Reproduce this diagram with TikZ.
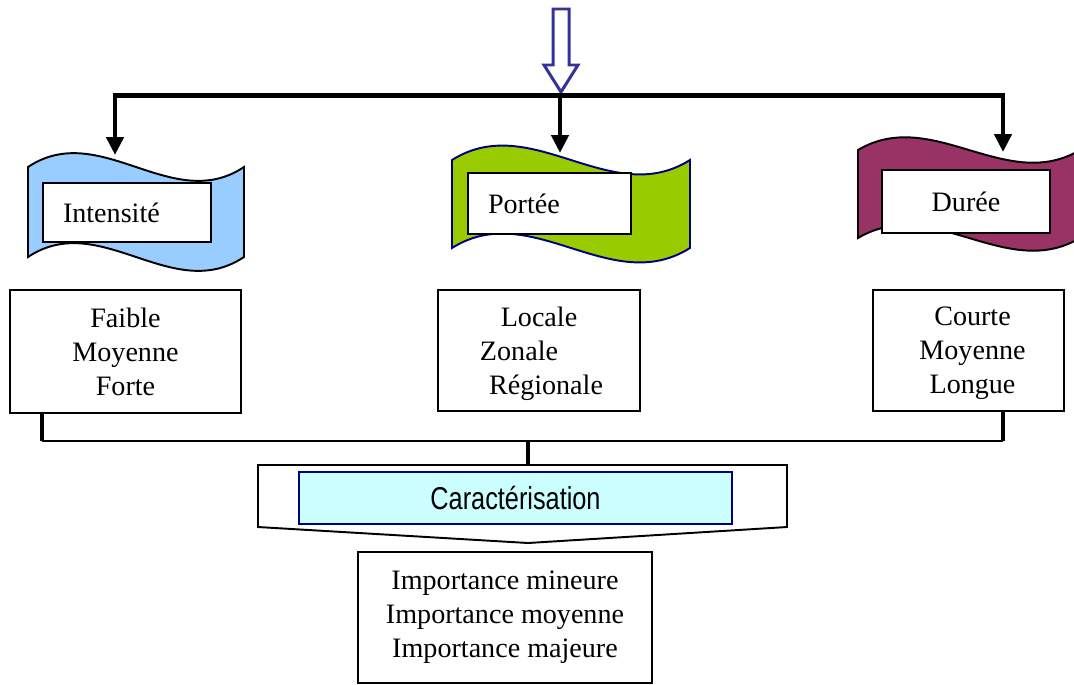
\documentclass[tikz,border=0pt]{standalone}
\usepackage{fontspec}
\usepackage{graphicx}
\setmainfont{Liberation Serif}
\newfontfamily\arialfont{Liberation Sans}
\usetikzlibrary{arrows.meta,calc}

\definecolor{flagBlue}{HTML}{99CCFF}
\definecolor{flagGreen}{HTML}{99CC00}
\definecolor{flagPlum}{HTML}{993366}
\definecolor{navyEdge}{HTML}{000080}
\definecolor{arrowBlue}{HTML}{333399}
\definecolor{caracFill}{HTML}{CCFFFF}

\begin{document}
\begin{tikzpicture}[x=0.02cm, y=-0.02cm,
		txt/.style={font=\fontsize{16pt}{19.3pt}\selectfont},
		listbox/.style={txt, draw, line width=0.85pt, align=center, inner sep=0pt},
		tagbox/.style={txt, draw, fill=white, line width=0.85pt, inner xsep=0.4cm, inner ysep=0pt, align=left},
		bar/.style={line width=2.8pt, line join=miter},
		tip/.style={-{Triangle[width=0.34cm,length=0.36cm]}},
		post/.style={line width=2.3pt}]
		
		\useasboundingbox (0,0) rectangle (1074,684);
		\clip (0,0) rectangle (1074,684);
		
		% Hollow arrow on top
		\coordinate (hub) at (560,95.5);
		\draw[arrowBlue, line width=1.7pt, fill=white] (553,9) -- (569,9) -- (569,65) -- (578,65) -- (561,92) -- (544,65) -- (553,65) -- cycle;
		
		% Wavy banners
		\foreach \L/\R/\T/\H/\c/\col/\edge in {28/244/167/90/48/flagBlue/black, 452/690/160/88/50/flagGreen/navyEdge, 858/1080/150/88/44/flagPlum/black} {
			\pgfmathsetmacro{\W}{\R-\L}
			\draw[fill=\col, draw=\edge, line width=1.1pt]
			(\L,\T) .. controls ({\L+\W/3},{\T-\c}) and ({\L+2*\W/3},{\T+\c}) .. (\R,\T)
			-- (\R,{\T+\H})
			.. controls ({\L+2*\W/3},{\T+\H+\c}) and ({\L+\W/3},{\T+\H-\c}) .. (\L,{\T+\H}) -- cycle;
		}
		
		% Labels on the banners
		\node[tagbox, minimum width=3.36cm, minimum height=1.18cm, text width=2.56cm] (intTag) at (127,212.5) {Intensité};
		\node[tagbox, minimum width=3.26cm, minimum height=1.22cm, text width=2.46cm] (porTag) at (549.5,203.5) {Portée};
		\node[tagbox, minimum width=3.36cm, minimum height=1.26cm, text width=2.56cm, align=center] (durTag) at (966,201.5) {Durée};
		
		% Distribution bar with arrows
		\coordinate (intIn) at (115,155);
		\coordinate (porIn) at (560,153);
		\coordinate (durIn) at (1003,152);
		\draw[bar, tip] (hub) -| (intIn);
		\draw[bar, tip] (hub) -| (durIn);
		\draw[bar, tip] (hub) -- (porIn);
		
		% Value lists
		\node[listbox, minimum width=4.62cm, minimum height=2.46cm] (intList) at (125.5,351.5) {Faible\\Moyenne\\Forte};
		\node[listbox, minimum width=4.04cm, minimum height=2.42cm] (porList) at (539,350.5) {Locale\\Zonale\hspace*{0.8cm}\null\\\hspace*{0.28cm}\smash{Régionale}};
		\node[listbox, minimum width=3.82cm, minimum height=2.42cm] (durList) at (968.5,350.5) {\hspace*{0.16cm}Courte\\\hspace*{0.16cm}Moyenne\\\hspace*{0.16cm}\smash{Longue}};
		
		% Collecting line
		\coordinate (intFoot) at (42,441);
		\coordinate (durFoot) at (1003,441);
		\coordinate (caracTop) at (528,465);
		\draw[line width=1.1pt] (intFoot) -- (durFoot);
		\draw[post] (intList.south -| intFoot) -- (intFoot);
		\draw[post] (durList.south -| durFoot) -- (durFoot);
		\draw[post] (caracTop |- intFoot) -- (caracTop);
		
		% Pointed frame and title
		\draw[line width=1.1pt, fill=white] (258,465) -- (787,465) -- (787,527) -- (528,543) -- (258,527) -- cycle;
		\node[draw=navyEdge, fill=caracFill, line width=1pt, minimum width=8.66cm, minimum height=1.04cm, inner sep=0pt, font=\arialfont\fontsize{18pt}{21pt}\selectfont] (carac) at (515.5,498) {\scalebox{0.8}[1]{Caractérisation}};
		
		% Result
		\node[listbox, minimum width=5.88cm, minimum height=2.62cm] (impList) at (505,617.5) {Importance mineure\\Importance moyenne\\Importance majeure};
	\end{tikzpicture}
\end{document}
